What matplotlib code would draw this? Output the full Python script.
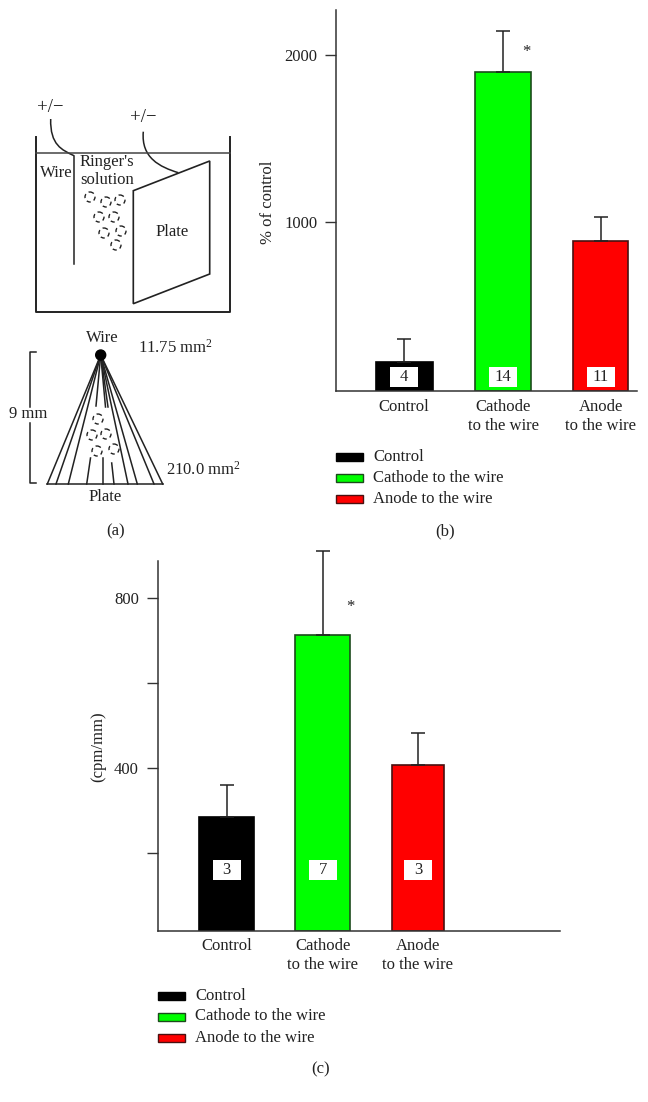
import matplotlib
matplotlib.use("Agg")
import matplotlib.pyplot as plt
from matplotlib.patches import Rectangle, Circle, Polygon, PathPatch
from matplotlib.path import Path

plt.rcParams['font.family'] = ['Liberation Serif', 'DejaVu Serif']
plt.rcParams['mathtext.fontset'] = 'stix'
plt.rcParams['mathtext.default'] = 'regular'

W, H = 648, 1102
FS = 12

colors = ['#000000', '#00ff00', '#ff0000']
edges = ['#000000', '#1c4a1c', '#4a1010']
legend_names = ['Control', 'Cathode to the wire', 'Anode to the wire']
bar_labels = [['Control'], ['Cathode', 'to the wire'], ['Anode', 'to the wire']]

# panel b
b_values = [162, 1900, 884]
b_errors = [137, 241, 148]
b_counts = ['4', '14', '11']
b_ticks = [1000, 2000]

# panel c
c_values = [285, 714, 408]
c_errors = [74, 197, 74]
c_counts = ['3', '7', '3']
c_ticks = [200, 400, 600, 800]
c_ticklabels = ['', '400', '', '800']

# panel a, bubbles in the tank and in the cone (pixel layout of the sketch)
tank_bubbles = [(90, 197), (106, 202), (120, 200), (99, 217), (114, 217),
                (104, 233), (121, 231), (116, 245)]
cone_bubbles = [(98, 419), (92, 435), (106, 434), (97, 451), (114, 449)]

fig = plt.figure(figsize=(W / 100, H / 100), dpi=100)

# overlay in pixel coordinates for the sketch and the free text
ov = fig.add_axes([0, 0, 1, 1])
ov.set_xlim(0, W)
ov.set_ylim(H, 0)
ov.axis('off')
ov.set_zorder(3)


def px_axes(left, top, right, bottom):
    return fig.add_axes([left / W, 1 - bottom / H, (right - left) / W, (bottom - top) / H])


def label(x, y, s, **kw):
    kw.setdefault('ha', 'center')
    kw.setdefault('va', 'center')
    kw.setdefault('fontsize', FS)
    kw.setdefault('color', '#222222')
    ov.text(x, y, s, **kw)


def bar_panel(box, ylim, centers, widths, values, errors, counts, ticks, ticklabels, box_y):
    left, top, right, bottom = box
    ax = px_axes(left, top, right, bottom)
    ax.patch.set_alpha(0)
    ax.set_xlim(left, right)
    ax.set_ylim(*ylim)
    for i in range(3):
        ax.bar(centers[i], values[i] - ylim[0], bottom=ylim[0], width=widths[i], color=colors[i],
               edgecolor=edges[i], linewidth=1.2)
        ax.errorbar(centers[i], values[i], yerr=[[0], [errors[i]]], color='#222222', elinewidth=1.1,
                    capsize=4.7, capthick=1.1, clip_on=False, fmt='none')
        ov.add_patch(Rectangle((centers[i] - 14, box_y - 10), 28, 20, facecolor='white', edgecolor='none', zorder=5))
        label(centers[i], box_y, counts[i], zorder=6)
    for s in ['top', 'right']:
        ax.spines[s].set_visible(False)
    for s in ['left', 'bottom']:
        ax.spines[s].set_color('#333333')
        ax.spines[s].set_linewidth(1.1)
    ax.set_xticks([])
    ax.set_yticks(ticks)
    ax.set_yticklabels(ticklabels, fontsize=FS, color='#222222')
    ax.tick_params(axis='y', length=8, width=1.0, color='#333333', pad=5.5)
    return ax


def category_labels(centers, y1, y2):
    for c, lines in zip(centers, bar_labels):
        label(c, y1, lines[0])
        if len(lines) > 1:
            label(c, y2, lines[1])


def legend_block(x, text_x, ys):
    for i, y in enumerate(ys):
        ov.add_patch(Rectangle((x, y - 4), 27, 8, facecolor=colors[i], edgecolor=edges[i], linewidth=1))
        label(text_x, y, legend_names[i], ha='left')


# ---- panel a ----
line = dict(color='#222222', linewidth=1.1)
bubble = dict(fill=False, edgecolor='#222222', linewidth=1.0, linestyle=(0, (3, 2.4)))
ov.plot([36.3, 36.3, 229.7, 229.7], [137, 311.7, 311.7, 137], color='#222222', linewidth=1.4)
ov.plot([36.3, 229.7], [152.7, 152.7], color='#444444', linewidth=1.1)
ov.plot([74, 74], [155.7, 264], **line)
ov.add_patch(PathPatch(Path([(50.7, 119), (50, 145), (62, 150), (74, 155.7)],
                            [Path.MOVETO, Path.CURVE4, Path.CURVE4, Path.CURVE4]),
                       fill=False, edgecolor='#222222', linewidth=1.1))
ov.add_patch(PathPatch(Path([(143.3, 131.7), (141, 158), (160, 167), (178.3, 172.7)],
                            [Path.MOVETO, Path.CURVE4, Path.CURVE4, Path.CURVE4]),
                       fill=False, edgecolor='#222222', linewidth=1.1))
ov.add_patch(Polygon([(133.3, 190.7), (209.7, 161), (209.7, 274), (133.3, 303.7)],
                     fill=False, edgecolor='#222222', linewidth=1.2))
for x, y in tank_bubbles + cone_bubbles:
    ov.add_patch(Circle((x, y), 5, **bubble))

label(50.7, 107, '+/−', fontsize=13.5)
label(143.3, 118, '+/−', fontsize=13.5)
label(56, 172.7, 'Wire')
label(106.7, 162.3, "Ringer's")
label(106.7, 180, 'solution')
label(171.7, 231.7, 'Plate')

# cone below the tank
apex = (100.7, 355)
ov.add_patch(Circle(apex, 5, facecolor='black', edgecolor='black', zorder=4))
ov.plot([47.3, 162.7], [484, 484], **line)
for xe in [47.3, 56, 68.3, 128, 137.3, 154, 162.7]:
    ov.plot([apex[0], xe], [apex[1], 484], **line)
ov.plot([apex[0], 96], [apex[1], 406], **line)
ov.plot([apex[0], 105.5], [apex[1], 407], **line)
ov.plot([apex[0], 108], [apex[1], 407], **line)
ov.plot([90.5, 86.7], [458, 484], **line)
ov.plot([103.3, 103.3], [458, 484], **line)
ov.plot([111.7, 114], [463, 484], **line)
ov.plot([36, 30, 30], [352.3, 352.3, 407], **line)
ov.plot([36, 30, 30], [483.3, 483.3, 423], **line)

label(102.3, 338, 'Wire')
label(175, 348, '11.75 mm$^{2}$')
label(28, 414, '9 mm')
label(203, 470, '210.0 mm$^{2}$')
label(105, 497, 'Plate')
label(116, 531, '(a)')

# ---- panel b ----
b_centers = [404, 503, 600.7]
b_widths = [57, 56.5, 54.5]
bar_panel((336, 10, 637, 391), (-12, 2269), b_centers, b_widths, b_values, b_errors, b_counts,
          b_ticks, [str(t) for t in b_ticks], 377)
label(268, 202, '% of control', rotation=90)
label(526.7, 52, '*')
category_labels(b_centers, 407, 426)
legend_block(336, 373, [457, 478, 499])
label(445, 531, '(b)')

# ---- panel c ----
c_centers = [226.7, 322.7, 418]
c_widths = [55.3, 55, 52.6]
bar_panel((157.7, 561, 559.5, 931), (16.5, 887), c_centers, c_widths, c_values, c_errors, c_counts,
          c_ticks, c_ticklabels, 870)
label(98, 747, '(cpm/mm)', rotation=90)
label(350.5, 607, '*')
category_labels(c_centers, 946, 965)
legend_block(157.5, 195, [995.5, 1016.5, 1037.5])
label(321, 1069, '(c)')

fig.savefig('out.png', dpi=100)
